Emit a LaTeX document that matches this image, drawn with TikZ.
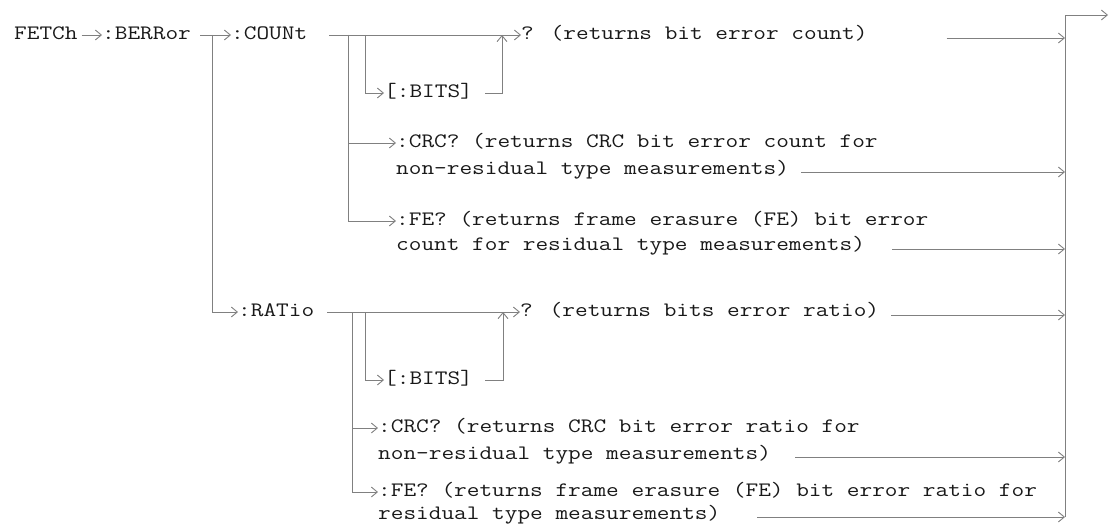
\documentclass[tikz,border=0pt]{standalone}
\usepackage{fontspec}
\newfontfamily\courlike[FakeStretch=1.2]{Latin Modern Mono}
\usetikzlibrary{arrows.meta,calc}
\begin{document}
\begin{tikzpicture}[x=1pt,y=-1pt,
  txt/.style={anchor=west,inner sep=0pt,text height=9pt,text depth=0pt,
    font=\courlike\fontsize{20.5}{26}\selectfont,text=black!90},
  ln/.style={draw=black!50,line width=0.9pt},
  arr/.style={ln,-{Straight Barb[length=6pt,width=10pt]}},
]
\useasboundingbox (0,0) rectangle (1109,527);
% text nodes
\node[txt] (fetch)  at (14,35)  {FETCh};
\node[txt] (berr)   at (102,35) {:BERRor};
\node[txt] (count)  at (231,35) {:COUNt};
\node[txt] (qcount) at (521,35) {? (returns bit error count)};
\node[txt] (bitsc)  at (384,93) {[:BITS]};
\node[txt] (crcc1)  at (396,143) {:CRC? (returns CRC bit error count for};
\node[txt] (crcc2)  at (396,170) {non-residual type measurements)};
\node[txt] (fec1)   at (396,221) {:FE? (returns frame erasure (FE) bit error};
\node[txt] (fec2)   at (396,246) {count for residual type measurements)};
\node[txt] (ratio)  at (238,312) {:RATio};
\node[txt] (qratio) at (520,312) {? (returns bits error ratio)};
\node[txt] (bitsr)  at (384,380) {[:BITS]};
\node[txt] (crcr1)  at (378,428) {:CRC? (returns CRC bit error ratio for};
\node[txt] (crcr2)  at (378,455) {non-residual type measurements)};
\node[txt] (fer1)   at (378,492) {:FE? (returns frame erasure (FE) bit error ratio for};
\node[txt] (fer2)   at (378,515) {residual type measurements)};
% junctions
\coordinate (j1) at (212,35);
\coordinate (j2) at (348,35);
\coordinate (j3) at (365,35);
\coordinate (u1) at (502,35);
\coordinate (k2) at (352,312);
\coordinate (k3) at (365,312);
\coordinate (u2) at (503,312);
\coordinate (bt) at (1065,15);
\coordinate (bb) at (1065,517);
\coordinate (out) at (1108,15);
% bus
\draw[ln] (bb) -- (bt);
\draw[arr] (bt) -- (out);
% connectors
\draw[arr,shorten <=4pt] (fetch.east) -- (berr.west);
\draw[arr] ($(berr.east)+(9,0)$) -- (count.west);
\draw[arr] (j1) |- (ratio.west);
\draw[arr] ($(count.east)+(22,0)$) -- (qcount.west);
\draw[arr] (j2) |- (crcc1.west);
\draw[arr] (j2) |- (fec1.west);
\draw[arr] (j3) |- (bitsc.west);
\draw[arr] ($(bitsc.east)+(12,0)$) -| (u1);
\draw[arr] ($(ratio.east)+(13,0)$) -- (qratio.west);
\draw[arr] (k2) |- (crcr1.west);
\draw[arr] (k2) |- (fer1.west);
\draw[arr] (k3) |- (bitsr.west);
\draw[arr] ($(bitsr.east)+(12,0)$) -| (u2);
% trailing lines to bus
\draw[arr] ($(qcount.east)+(79,3)$) -- ($(qcount.east -| bt)+(0,3)$);
\draw[arr] ($(crcc2.east)+(12,2)$) -- ($(crcc2.east -| bt)+(0,2)$);
\draw[arr] ($(fec2.east)+(27,3)$) -- ($(fec2.east -| bt)+(0,3)$);
\draw[arr] ($(qratio.east)+(12,3)$) -- ($(qratio.east -| bt)+(0,3)$);
\draw[arr] ($(crcr2.east)+(24,2)$) -- ($(crcr2.east -| bt)+(0,2)$);
\draw[arr] ($(fer2.east)+(37,2)$) -- ($(fer2.east -| bt)+(0,2)$);
\end{tikzpicture}
\end{document}
